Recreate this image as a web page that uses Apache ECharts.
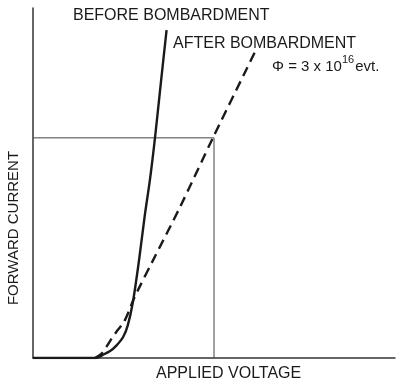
<!DOCTYPE html>
<html>
<head>
<meta charset="utf-8">
<script src="https://cdn.jsdelivr.net/npm/echarts@6/dist/echarts.min.js"></script>
<style>
  html, body { margin: 0; padding: 0; background: #fff; }
  #chart { width: 396px; height: 383px; }
</style>
</head>
<body>
<div id="chart"></div>
<script>
// Forward characteristic of a diode, in arbitrary units (0-100 on both axes)
const beforeVoltage = [0, 17.4, 19.3, 21.3, 22.9, 24.9, 26.2, 27.6, 29.3, 30.9, 32.3, 33.7, 35.4, 36.9];
const beforeCurrent = [0, 0, 0.9, 2.0, 3.4, 6.0, 9.4, 16.0, 28.0, 40.9, 50.9, 62.9, 79.4, 93.7];

const afterVoltage = [17.1, 18.8, 20.4, 21.8, 23.2, 25.1, 26.5, 27.6, 29.0, 32.9, 40.6, 49.7, 61.3];
const afterCurrent = [0, 1.1, 3.4, 5.7, 7.7, 10.3, 13.4, 16.3, 19.4, 27.4, 43.1, 62.9, 87.4];

// Reference operating point: a guide box drawn from the axes
const refVoltage = [0, 50, 50];
const refCurrent = [62.9, 62.9, 0];

const labels = {
  before: 'BEFORE BOMBARDMENT',
  after: 'AFTER BOMBARDMENT',
  xName: 'APPLIED VOLTAGE',
  yName: 'FORWARD CURRENT'
};

const zip = (xs, ys) => xs.map((x, i) => [x, ys[i]]);

const font = '"Liberation Sans", Arial, sans-serif';
const ink = '#1a1a1a';

const chart = echarts.init(document.getElementById('chart'), null, { renderer: 'canvas' });

chart.setOption({
  animation: false,
  backgroundColor: '#fff',
  grid: { left: 33, right: 1, top: 8, bottom: 25 },
  xAxis: {
    type: 'value', min: 0, max: 100,
    axisLine: { show: true, lineStyle: { color: '#333', width: 1.5 } },
    axisTick: { show: false }, axisLabel: { show: false }, splitLine: { show: false }
  },
  yAxis: {
    type: 'value', min: 0, max: 100,
    axisLine: { show: true, lineStyle: { color: '#333', width: 1.5 } },
    axisTick: { show: false }, axisLabel: { show: false }, splitLine: { show: false }
  },
  series: [
    {
      type: 'line', data: zip(refVoltage, refCurrent), symbol: 'none',
      lineStyle: { color: '#444', width: 1 }, z: 1
    },
    {
      type: 'line', data: zip(beforeVoltage, beforeCurrent), symbol: 'none', smooth: 0.3,
      lineStyle: { color: ink, width: 2.4 }, z: 3
    },
    {
      type: 'line', data: zip(afterVoltage, afterCurrent), symbol: 'none', smooth: 0.3,
      lineStyle: { color: ink, width: 2.4, type: [10, 6] }, z: 2
    }
  ],
  graphic: [
    { type: 'text', left: 73, top: 8,
      style: { text: labels.before, font: '16px ' + font, fill: ink } },
    { type: 'text', left: 173, top: 36,
      style: { text: labels.after, font: '16px ' + font, fill: ink } },
    { type: 'text', left: 272, top: 54,
      style: {
        text: '{a|\u03A6 = 3 x 10}{s|16}{a|evt.}',
        rich: {
          a: { fontSize: 15, fontFamily: font, fill: ink, verticalAlign: 'bottom', lineHeight: 20 },
          s: { fontSize: 11, fontFamily: font, fill: ink, verticalAlign: 'top', lineHeight: 20, padding: [0, 1, 0, 0] }
        }
      } },
    { type: 'text', left: 156, top: 366,
      style: { text: labels.xName, font: '16px ' + font, fill: ink } },
    { type: 'text', x: 14, y: 228, rotation: Math.PI / 2,
      style: { text: labels.yName, font: '15px ' + font, fill: ink, align: 'center', verticalAlign: 'middle' } }
  ]
});
</script>
</body>
</html>
